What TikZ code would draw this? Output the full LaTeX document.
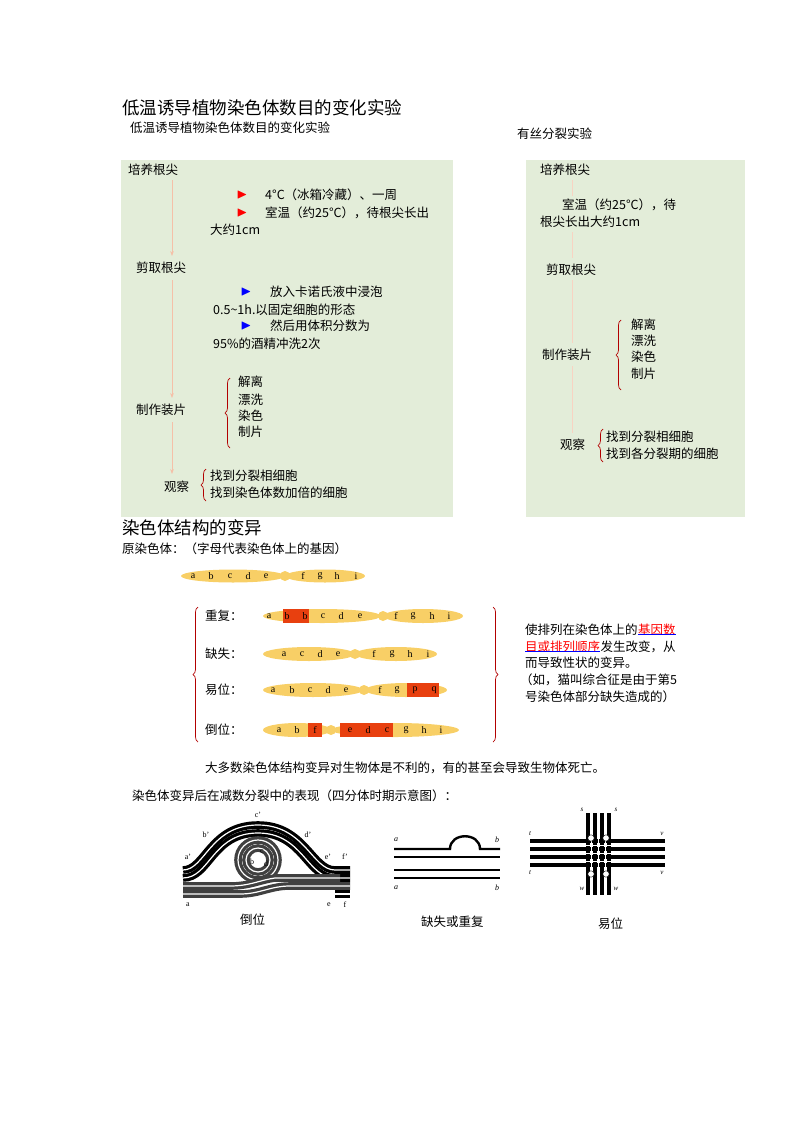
\documentclass[tikz,border=0pt]{standalone}
\usepackage{amssymb}
\usepackage{fontspec}
\setmainfont{Liberation Serif}
\newfontfamily\cjk{Noto Sans CJK SC}
\usetikzlibrary{decorations.pathreplacing,arrows.meta}
\definecolor{boxg}{HTML}{E3EDD9}
\definecolor{chrom}{HTML}{F8CF66}
\definecolor{redb}{HTML}{E8400F}
\definecolor{pinka}{HTML}{F5C0A8}
\begin{document}
\begin{tikzpicture}[x=1pt,y=-1pt,
  t/.style={anchor=west,inner sep=0,font=\cjk\fontsize{12.5}{14}\selectfont},
  big/.style={anchor=west,inner sep=0,font=\cjk\fontsize{17.5}{20}\selectfont},
  flow/.style={pinka,line width=1pt,-{Stealth[length=5pt]}},
  brc/.style={red!70!black,line width=0.7pt,decorate,decoration={brace,amplitude=5pt}},
  gene/.style={inner sep=0,font=\fontsize{10}{10}\selectfont},
  bar/.style={line width=3.2pt,double=white,double distance=1.2pt,line cap=butt},
  tri/.style={anchor=center,inner sep=0,font=\fontsize{8}{8}\selectfont},
  arw/.style={anchor=center,inner sep=0,font=\fontsize{14}{14}\selectfont}]
\useasboundingbox (0,0) rectangle (800,1132);
\node[big] (h1) at (122,108) {低温诱导植物染色体数目的变化实验};
\node[t] (h2) at (130,128) {低温诱导植物染色体数目的变化实验};
\node[t] (h3) at (517,134) {有丝分裂实验};
% left box
\fill[boxg] (121,160) rectangle (453,517);
\node[t] (l1) at (128,170) {培养根尖};
\node[t] (l2) at (136,268) {剪取根尖};
\node[t] (l3) at (136,410) {制作装片};
\node[t] (l4) at (164,487) {观察};
\draw[flow] (172,180) -- (172,256);
\draw[flow] (172,280) -- (172,398);
\draw[flow] (172,422) -- (172,474);
\node[arw,red] (ar1) at (242,195) {$\blacktriangleright$};
\node[arw,red] (ar2) at (242,213) {$\blacktriangleright$};
\node[t] (x1) at (265,195) {4°C（冰箱冷藏）、一周};
\begin{scope}
\clip (121,160) rectangle (453,517);
\node[t] (x2) at (265,213) {室温（约25°C），待根尖长出};
\end{scope}
\node[t] (x3) at (210,230) {大约1cm};
\node[arw,blue] (ab1) at (246,292) {$\blacktriangleright$};
\node[arw,blue] (ab2) at (246,326) {$\blacktriangleright$};
\node[t] (y1) at (270,292) {放入卡诺氏液中浸泡};
\node[t] (y2) at (213,310) {0.5\textasciitilde1h.以固定细胞的形态};
\node[t] (y3) at (270,326) {然后用体积分数为};
\node[t] (y4) at (213,344) {95\%的酒精冲洗2次};
\draw[brc] (230,448) -- (230,378);
\node[t] (z1) at (238,382) {解离};
\node[t] (z2) at (238,400) {漂洗};
\node[t] (z3) at (238,416) {染色};
\node[t] (z4) at (238,432) {制片};
\draw[brc] (206,501) -- (206,469);
\node[t] (w1) at (210,476) {找到分裂相细胞};
\node[t] (w2) at (210,493) {找到染色体数加倍的细胞};
% right box
\fill[boxg] (526,160) rectangle (745,517);
\node[t] (r1) at (540,170) {培养根尖};
\node[t] (r2) at (562,205) {室温（约25°C），待};
\node[t] (r3) at (540,222) {根尖长出大约1cm};
\node[t] (r4) at (546,270) {剪取根尖};
\node[t] (r5) at (542,355) {制作装片};
\node[t] (r6) at (560,445) {观察};
\draw[pinka!70,line width=0.6pt] (572,180) -- (572,196);
\draw[pinka!70,line width=0.6pt] (572,232) -- (572,258);
\draw[pinka!70,line width=0.6pt] (572,280) -- (572,343);
\draw[pinka!70,line width=0.6pt] (572,366) -- (572,433);
\draw[brc] (621,390) -- (621,320);
\node[t] (s1) at (631,325) {解离};
\node[t] (s2) at (631,341) {漂洗};
\node[t] (s3) at (631,357) {染色};
\node[t] (s4) at (631,374) {制片};
\draw[brc] (603,462) -- (603,429);
\node[t] (q1) at (606,437) {找到分裂相细胞};
\node[t] (q2) at (606,454) {找到各分裂期的细胞};
% chromosome section
\node[big] (c0) at (122,528) {染色体结构的变异};
\node[t] (c1) at (122,549) {原染色体：（字母代表染色体上的基因）};
\fill[chrom] (233,576) ellipse (52 and 6.5);
\fill[chrom] (325,576) ellipse (40 and 6.5);
\fill[chrom] (285,576) circle (5);
\foreach \l/\x in {a/193,b/211,c/230,d/248,e/266,f/303,g/320,h/337,i/356}
  \node[gene] at (\x,576) {\l};
% rows
\node[t] (rw1) at (205,616) {重复：};
\node[t] (rw2) at (205,654) {缺失：};
\node[t] (rw3) at (205,690) {易位：};
\node[t] (rw4) at (205,730) {倒位：};
% row 1
\fill[chrom] (322,616) ellipse (59 and 7);
\fill[chrom] (423,616) ellipse (40 and 7);
\fill[chrom] (383,616) circle (5);
\fill[redb] (283,609) rectangle (309,623);
\foreach \l/\x in {a/269,b/287,b/305,c/323,d/341,e/360,f/396,g/413,h/432,i/449}
  \node[gene] at (\x,616) {\l};
% row 2
\fill[chrom] (309,654) ellipse (46 and 7);
\fill[chrom] (396,654) ellipse (41 and 7);
\fill[chrom] (355,654) circle (5);
\foreach \l/\x in {a/284,c/302,d/320,e/338,f/374,g/392,h/410,i/428}
  \node[gene] at (\x,654) {\l};
% row 3
\fill[chrom] (313,690) ellipse (50 and 7);
\fill[chrom] (406,690) ellipse (41 and 7);
\fill[chrom] (364,690) circle (5);
\fill[redb] (407,683) rectangle (439,697);
\foreach \l/\x in {a/273,b/292,c/310,d/328,e/346,f/380,g/397,p/415,q/434}
  \node[gene] at (\x,690) {\l};
% row 4
\fill[chrom] (297,730) ellipse (34 and 7);
\fill[chrom] (395,730) ellipse (64 and 7);
\fill[chrom] (331,730) circle (5);
\fill[redb] (308,723) rectangle (322,737);
\fill[redb] (340,723) rectangle (393,737);
\foreach \l/\x in {a/279,b/297,f/315,e/350,d/368,c/387,g/406,h/424,i/441}
  \node[gene] at (\x,730) {\l};
\draw[brc] (198,742) -- (198,607);
\draw[brc] (493,607) -- (493,742);
% right explanation
\node[t] (e1) at (525,630) {使排列在染色体上的};
\node[t,red,anchor=base west] (e1r) at (e1.base east) {基因数};
\node[t,red] (e2r) at (525,647) {目或排列顺序};
\node[t,anchor=base west] (e2) at (e2r.base east) {发生改变，从};
\node[t] (e3) at (525,663) {而导致性状的变异。};
\node[t] (e4) at (520,680) {（如，猫叫综合征是由于第5};
\node[t] (e5) at (525,697) {号染色体部分缺失造成的）};
\draw[blue,line width=0.6pt] ([yshift=1.5pt]e1r.south west) -- ([yshift=1.5pt]e1r.south east);
\draw[blue,line width=0.6pt] ([yshift=1.5pt]e2r.south west) -- ([yshift=1.5pt]e2r.south east);
\node[t] (n1) at (205,768) {大多数染色体结构变异对生物体是不利的，有的甚至会导致生物体死亡。};
\node[t] (n2) at (132,796) {染色体变异后在减数分裂中的表现（四分体时期示意图）：};
% inversion figure
\draw[bar] (183,870) .. controls (205,870) and (210,825) .. (258,825) .. controls (305,825) and (312,870) .. (335,870) -- (350,870);
\draw[bar] (183,878) .. controls (210,878) and (212,833) .. (258,833) .. controls (303,833) and (307,878) .. (335,878) -- (350,878);
\draw[bar,black!75] (258,860) circle (20);
\draw[bar,black!75] (258,860) circle (12);
\draw[bar,black!75] (183,886) -- (230,886) .. controls (250,886) and (260,880) .. (275,878) -- (340,878);
\draw[bar,black!75] (183,894) -- (240,894) .. controls (260,894) and (270,886) .. (290,886) -- (350,886);
\draw[bar] (335,894) -- (350,894);
\node[tri] at (258,815) {c'};
\node[tri] at (206,835) {b'};
\node[tri] at (308,835) {d'};
\node[tri] at (188,857) {a'};
\node[tri] at (328,857) {e'};
\node[tri] at (345,857) {f'};
\node[tri] at (252,862) {b};
\node[tri] at (262,852) {c};
\node[tri] at (266,864) {d};
\node[tri] at (188,905) {a};
\node[tri] at (329,905) {e};
\node[tri] at (345,905) {f};
\node[t] (cap1) at (240,920) {倒位};
% deletion figure
\draw[black,line width=2.4pt] (394,849) -- (450,849) .. controls (450,832) and (480,832) .. (480,849) -- (500,849);
\draw[black,line width=2.4pt] (394,857) -- (500,857);
\draw[black,line width=2.4pt] (394,870) -- (500,870);
\draw[black,line width=2.4pt] (394,878) -- (500,878);
\node[tri,font=\itshape\fontsize{8}{8}\selectfont] at (396,840) {a};
\node[tri,font=\itshape\fontsize{8}{8}\selectfont] at (396,888) {a};
\node[tri,font=\itshape\fontsize{8}{8}\selectfont] at (497,840) {b};
\node[tri,font=\itshape\fontsize{8}{8}\selectfont] at (497,888) {b};
\node[t] (cap2) at (421,922) {缺失或重复};
% translocation figure
\foreach \y in {841,849,857,865} \draw[black,line width=3.4pt] (530,\y) -- (665,\y);
\foreach \x in {588,595,602,609} \draw[black,line width=3.4pt] (\x,813) -- (\x,895);
\foreach \y in {845,853,861} \draw[white,line width=0.6pt] (530,\y) -- (665,\y);
\foreach \x in {591.5,598.5,605.5} \draw[white,line width=0.6pt] (\x,813) -- (\x,895);
\foreach \p in {(591,838),(606,838),(591,874),(606,874)} \fill[white,draw=black] \p circle (3.2);
\node[tri,font=\itshape\fontsize{7}{7}\selectfont] at (582,810) {s};
\node[tri,font=\itshape\fontsize{7}{7}\selectfont] at (616,810) {s};
\node[tri,font=\itshape\fontsize{7}{7}\selectfont] at (530,834) {t};
\node[tri,font=\itshape\fontsize{7}{7}\selectfont] at (530,873) {t};
\node[tri,font=\itshape\fontsize{7}{7}\selectfont] at (662,834) {v};
\node[tri,font=\itshape\fontsize{7}{7}\selectfont] at (662,873) {v};
\node[tri,font=\itshape\fontsize{7}{7}\selectfont] at (582,889) {w};
\node[tri,font=\itshape\fontsize{7}{7}\selectfont] at (616,889) {w};
\node[t] (cap3) at (598,924) {易位};
\end{tikzpicture}
\end{document}
